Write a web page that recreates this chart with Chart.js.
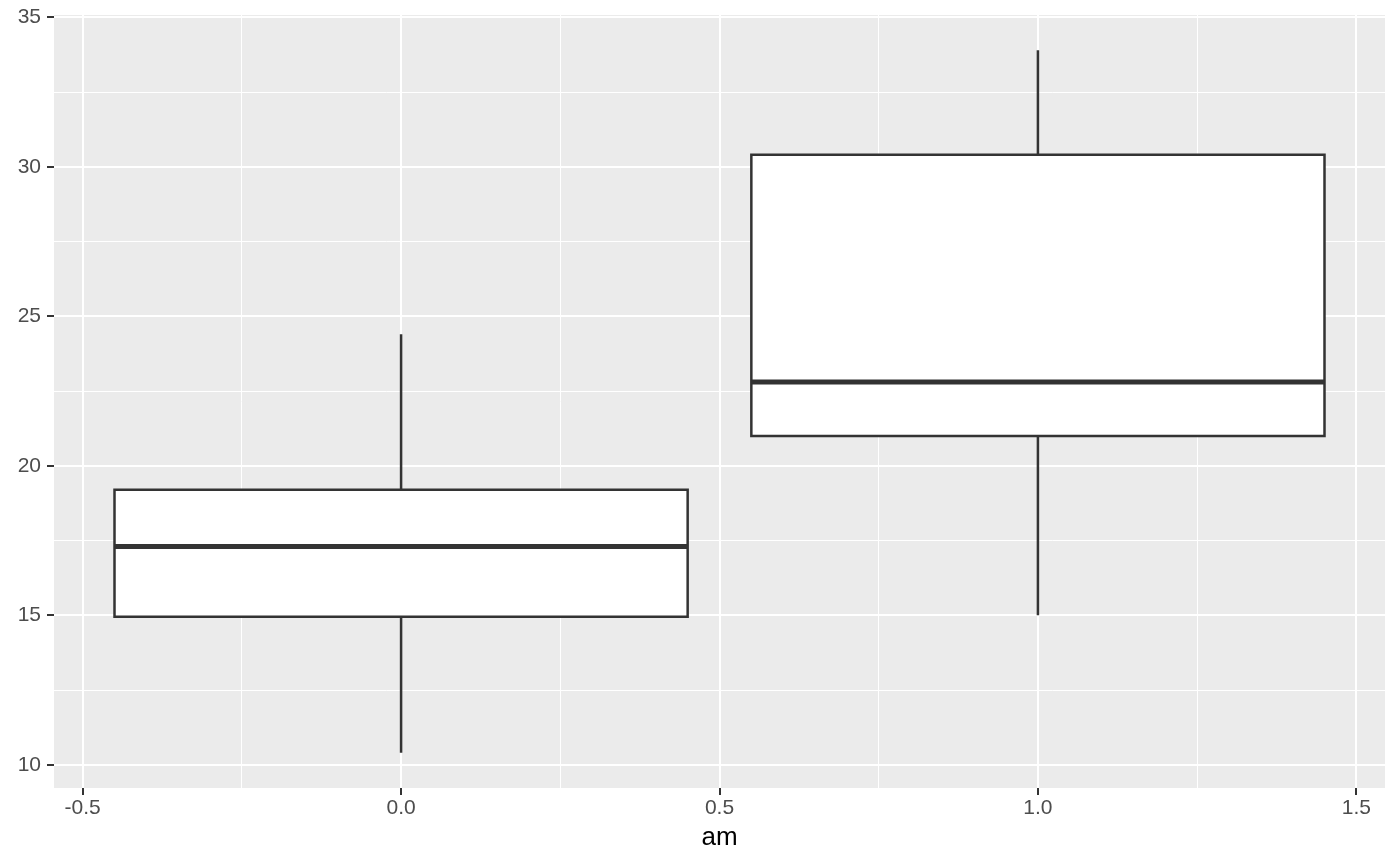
<!DOCTYPE html>
<html>
<head>
<meta charset="utf-8">
<script src="https://cdn.jsdelivr.net/npm/chart.js@4/dist/chart.umd.min.js"></script>
<style>
  html, body { margin: 0; padding: 0; background: #fff; }
  #wrap { width: 1400px; height: 866px; }
</style>
</head>
<body>
<div id="wrap"><canvas id="graph"></canvas></div>
<script>
// mtcars mpg par am
const groupes = [0, 1];
const minimums = [10.4, 15.0];
const q1s = [14.95, 21.0];
const medianes = [17.3, 22.8];
const q3s = [19.2, 30.4];
const maximums = [24.4, 33.9];
const xTicks = [-0.5, 0, 0.5, 1.0, 1.5];
const yTicks = [10, 15, 20, 25, 30, 35];
const demiLargeur = 0.45;

const trait = '#333333';
const datasets = [];

groupes.forEach(function (g, i) {
    // moustache (derriere la boite)
    datasets.push({
        data: [{x: g, y: minimums[i]}, {x: g, y: maximums[i]}],
        borderColor: trait,
        borderWidth: 2.5,
        order: 3
    });
    // boite (le dernier point repasse sur le premier coté pour fermer proprement le coin)
    datasets.push({
        data: [
            {x: g - demiLargeur, y: q1s[i]},
            {x: g + demiLargeur, y: q1s[i]},
            {x: g + demiLargeur, y: q3s[i]},
            {x: g - demiLargeur, y: q3s[i]},
            {x: g - demiLargeur, y: q1s[i]},
            {x: g, y: q1s[i]}
        ],
        borderColor: trait,
        borderWidth: 2.5,
        backgroundColor: '#ffffff',
        fill: 'shape',
        order: 2
    });
    // mediane
    datasets.push({
        data: [{x: g - demiLargeur, y: medianes[i]}, {x: g + demiLargeur, y: medianes[i]}],
        borderColor: trait,
        borderWidth: 5,
        order: 1
    });
});

const fondPanneau = {
    id: 'fondPanneau',
    beforeDraw(chart) {
        const a = chart.chartArea;
        const ctx = chart.ctx;
        ctx.save();
        ctx.fillStyle = '#EBEBEB';
        ctx.fillRect(a.left, a.top, a.right - a.left, a.bottom - a.top);
        ctx.restore();
    }
};

function estMajeur(v, liste) {
    return liste.some(t => Math.abs(t - v) < 1e-9);
}

new Chart(document.getElementById('graph'), {
    type: 'scatter',
    data: {datasets: datasets},
    plugins: [fondPanneau],
    options: {
        responsive: true,
        maintainAspectRatio: false,
        animation: false,
        layout: {padding: {top: 15, right: 15, left: 0, bottom: 0}},
        plugins: {legend: {display: false}, tooltip: {enabled: false}},
        elements: {
            point: {radius: 0},
            line: {tension: 0, borderCapStyle: 'butt', borderJoinStyle: 'miter'}
        },
        datasets: {scatter: {showLine: true}},
        scales: {
            x: {
                type: 'linear',
                min: -0.545,
                max: 1.545,
                afterBuildTicks(scale) {
                    scale.ticks = [-0.25, 0.25, 0.75, 1.25].concat(xTicks).map(v => ({value: v}));
                },
                afterFit(scale) {
                    scale.height = 78;
                    scale.paddingLeft = 0;
                    scale.paddingRight = 0;
                },
                border: {display: false},
                grid: {
                    color: '#ffffff',
                    lineWidth: ctx => estMajeur(ctx.tick.value, xTicks) ? 2 : 1,
                    tickColor: ctx => estMajeur(ctx.tick.value, xTicks) ? trait : 'rgba(0,0,0,0)',
                    tickWidth: 2,
                    tickLength: 7
                },
                ticks: {
                    color: '#4D4D4D',
                    font: {family: 'Liberation Sans, Arial, sans-serif', size: 21},
                    padding: 1,
                    maxRotation: 0,
                    autoSkip: false,
                    callback: v => estMajeur(v, xTicks) ? (Number.isInteger(v) ? v.toFixed(1) : String(v)) : ''
                },
                title: {
                    display: true,
                    text: 'am',
                    color: '#000000',
                    font: {family: 'Liberation Sans, Arial, sans-serif', size: 26},
                    padding: {top: 0, bottom: 13}
                }
            },
            y: {
                type: 'linear',
                min: 9.225,
                max: 35.075,
                afterBuildTicks(scale) {
                    scale.ticks = [12.5, 17.5, 22.5, 27.5, 32.5].concat(yTicks).map(v => ({value: v}));
                },
                afterFit(scale) {
                    scale.width = 54;
                    scale.paddingTop = 0;
                    scale.paddingBottom = 0;
                },
                border: {display: false},
                grid: {
                    color: '#ffffff',
                    lineWidth: ctx => estMajeur(ctx.tick.value, yTicks) ? 2 : 1,
                    tickColor: ctx => estMajeur(ctx.tick.value, yTicks) ? trait : 'rgba(0,0,0,0)',
                    tickWidth: 2,
                    tickLength: 7
                },
                ticks: {
                    color: '#4D4D4D',
                    font: {family: 'Liberation Sans, Arial, sans-serif', size: 21},
                    padding: 6,
                    autoSkip: false,
                    callback: v => estMajeur(v, yTicks) ? String(v) : ''
                }
            }
        }
    }
});
</script>
</body>
</html>
